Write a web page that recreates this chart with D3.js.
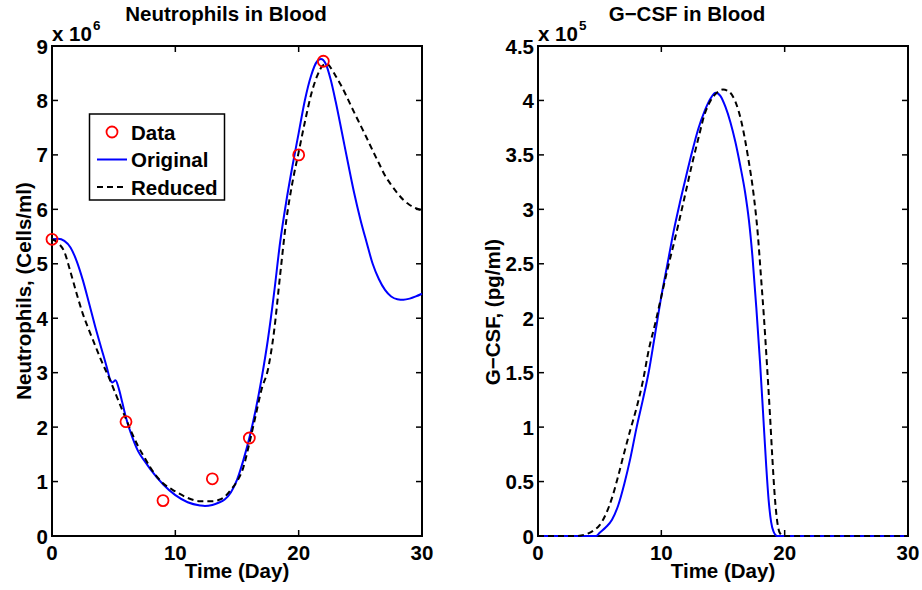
<!DOCTYPE html>
<html>
<head>
<meta charset="utf-8">
<script src="https://cdn.jsdelivr.net/npm/d3@7"></script>
<style>
  body { margin: 0; background: #fff; }
  svg text { font-family: "Liberation Sans", Arial, Helvetica, sans-serif; font-weight: bold; fill: #000; }
</style>
</head>
<body>
<div class="chart"></div>
<script>
// Neutrophils (x 10^6 cells/ml)
const dataDays = [0, 6, 9, 13, 16, 20, 22]
const dataNeut = [5.45, 2.1, 0.65, 1.05, 1.8, 7.0, 8.72]

const origNeutDays = [0, 0.5, 1, 1.5, 2, 2.5, 3, 3.5, 4, 4.5, 4.7, 4.9, 5.15, 5.4, 5.7, 6, 6.5, 7, 7.5, 8, 9, 10, 11, 12, 12.4, 13, 13.5, 14, 14.5, 15, 15.5, 16, 16.5, 17, 17.5, 18, 18.5, 19, 19.5, 20, 20.5, 21, 21.5, 21.8, 22.2, 22.6, 23, 23.5, 24, 24.5, 25, 25.5, 26, 26.5, 27, 27.5, 28, 28.5, 29, 29.5, 30]
const origNeut = [5.45, 5.46, 5.42, 5.3, 5.05, 4.7, 4.28, 3.85, 3.45, 3.05, 2.88, 2.82, 2.86, 2.72, 2.45, 2.17, 1.82, 1.55, 1.38, 1.22, 0.95, 0.75, 0.62, 0.56, 0.55, 0.57, 0.61, 0.67, 0.8, 1.03, 1.38, 1.8, 2.3, 2.9, 3.6, 4.45, 5.4, 6.15, 6.8, 7.4, 8.0, 8.45, 8.72, 8.76, 8.67, 8.38, 7.98, 7.42, 6.85, 6.3, 5.82, 5.4, 5.0, 4.72, 4.52, 4.4, 4.35, 4.34, 4.36, 4.4, 4.45]

const redNeutDays = [0, 0.5, 1, 1.5, 2, 2.5, 3, 3.5, 4, 4.5, 5, 5.5, 6, 6.5, 7, 7.5, 8, 8.5, 9, 10, 11, 12, 13, 13.5, 14, 14.5, 15, 15.5, 16, 16.5, 17, 17.5, 18, 18.5, 19, 19.5, 20, 20.5, 21, 21.5, 22, 22.3, 22.6, 23, 23.5, 24, 24.5, 25, 25.5, 26, 26.5, 27, 27.5, 28, 28.5, 29, 29.5, 30]
const redNeut = [5.45, 5.38, 5.22, 4.85, 4.45, 4.08, 3.78, 3.5, 3.22, 2.97, 2.7, 2.42, 2.15, 1.88, 1.64, 1.44, 1.25, 1.09, 0.97, 0.82, 0.7, 0.64, 0.64, 0.66, 0.72, 0.85, 1.0, 1.25, 1.7, 2.2, 2.7, 3.05, 3.75, 4.8, 5.8, 6.5, 7.05, 7.6, 8.1, 8.45, 8.65, 8.67, 8.6, 8.45, 8.25, 8.02, 7.78, 7.55, 7.32, 7.08, 6.85, 6.62, 6.45, 6.3, 6.17, 6.08, 6.02, 5.98]

// G-CSF (x 10^5 pg/ml)
const origGcsfDays = [0, 4.7, 5, 5.5, 6, 6.5, 7, 7.5, 8, 8.5, 9, 9.5, 10, 10.5, 11, 11.5, 12, 12.5, 13, 13.5, 14, 14.4, 14.8, 15.2, 15.6, 16, 16.4, 16.8, 17.1, 17.4, 17.7, 18, 18.25, 18.5, 18.7, 18.9, 19.1, 19.4, 30]
const origGcsf = [0, 0, 0.03, 0.08, 0.15, 0.28, 0.48, 0.72, 1.0, 1.25, 1.52, 1.86, 2.2, 2.5, 2.8, 3.06, 3.3, 3.53, 3.74, 3.9, 4.02, 4.07, 4.04, 3.94, 3.8, 3.62, 3.4, 3.15, 2.9, 2.55, 2.1, 1.6, 1.13, 0.65, 0.33, 0.13, 0.04, 0, 0]

const redGcsfDays = [0, 3, 3.5, 4, 4.5, 5, 5.5, 6, 6.5, 7, 7.5, 8, 8.5, 9, 9.5, 10, 10.5, 11, 11.5, 12, 12.5, 13, 13.5, 14, 14.5, 15, 15.5, 16, 16.5, 17, 17.5, 17.8, 18.1, 18.3, 18.55, 18.8, 19, 19.2, 19.4, 19.6, 19.9, 30]
const redGcsf = [0, 0, 0.005, 0.02, 0.05, 0.1, 0.2, 0.35, 0.55, 0.77, 0.98, 1.18, 1.42, 1.72, 1.95, 2.2, 2.45, 2.68, 2.92, 3.17, 3.42, 3.65, 3.87, 4.0, 4.07, 4.1, 4.08, 3.99, 3.8, 3.5, 3.12, 2.8, 2.35, 2.04, 1.6, 1.13, 0.72, 0.36, 0.13, 0.03, 0, 0]

const xTicks = [0, 10, 20, 30]
const neutTicks = [0, 1, 2, 3, 4, 5, 6, 7, 8, 9]
const gcsfTicks = [0, 0.5, 1, 1.5, 2, 2.5, 3, 3.5, 4, 4.5]

const w = 922
const h = 590
const fs = "20.5px"

const svg = d3.select(".chart")
  .append("svg")
  .attr("width", w)
  .attr("height", h)

function zip(xs, ys) {
  return xs.map((x, i) => [x, ys[i]])
}

function panel(opt) {
  const x = d3.scaleLinear().domain([0, 30]).range([opt.left, opt.right])
  const y = d3.scaleLinear().domain(opt.yDomain).range([536, 46])
  const g = svg.append("g")

  // box
  g.append("rect")
    .attr("x", opt.left).attr("y", 46)
    .attr("width", opt.right - opt.left).attr("height", 490)
    .attr("fill", "none").attr("stroke", "#000").attr("stroke-width", 2)

  // ticks on all four sides (inward)
  const tl = 6
  xTicks.forEach(t => {
    g.append("line").attr("x1", x(t)).attr("x2", x(t)).attr("y1", 536).attr("y2", 536 - tl).attr("stroke", "#000").attr("stroke-width", 1.5)
    g.append("line").attr("x1", x(t)).attr("x2", x(t)).attr("y1", 46).attr("y2", 46 + tl).attr("stroke", "#000").attr("stroke-width", 1.5)
    g.append("text").attr("x", x(t)).attr("y", 560).attr("text-anchor", "middle").style("font-size", fs).text(t)
  })
  opt.yTicks.forEach(t => {
    g.append("line").attr("x1", opt.left).attr("x2", opt.left + tl).attr("y1", y(t)).attr("y2", y(t)).attr("stroke", "#000").attr("stroke-width", 1.5)
    g.append("line").attr("x1", opt.right).attr("x2", opt.right - tl).attr("y1", y(t)).attr("y2", y(t)).attr("stroke", "#000").attr("stroke-width", 1.5)
    g.append("text").attr("x", opt.left - 4).attr("y", y(t) + 7.5).attr("text-anchor", "end").style("font-size", fs).text(t)
  })

  // exponent label
  g.append("text").attr("x", opt.left).attr("y", 41).style("font-size", fs).text("x 10")
  g.append("text").attr("x", opt.left + 41).attr("y", 30).style("font-size", "13.5px").text(opt.exp)

  // titles
  g.append("text").attr("x", opt.titleX).attr("y", 21).attr("text-anchor", "middle").style("font-size", fs).text(opt.title)
  g.append("text").attr("x", (opt.left + opt.right) / 2).attr("y", 578).attr("text-anchor", "middle").style("font-size", fs).text("Time (Day)")
  g.append("text")
    .attr("transform", `translate(${opt.yLabelX}, ${opt.yLabelY}) rotate(-90)`)
    .attr("text-anchor", "middle").style("font-size", fs).text(opt.yLabel)

  const line = d3.line().x(d => x(d[0])).y(d => y(d[1])).curve(d3.curveMonotoneX)

  g.append("path").datum(opt.orig).attr("d", line)
    .attr("fill", "none").attr("stroke", "#0000ff").attr("stroke-width", 2)
  g.append("path").datum(opt.reduced).attr("d", line)
    .attr("fill", "none").attr("stroke", "#000").attr("stroke-width", 2).attr("stroke-dasharray", "6,4")

  if (opt.points) {
    g.selectAll("circle.data").data(opt.points).enter().append("circle")
      .attr("class", "data")
      .attr("cx", d => x(d[0])).attr("cy", d => y(d[1])).attr("r", 5.5)
      .attr("fill", "none").attr("stroke", "#ff0000").attr("stroke-width", 1.8)
  }
  return g
}

const left = panel({
  left: 52, right: 422,
  yDomain: [0, 9], yTicks: neutTicks, exp: "6",
  title: "Neutrophils in Blood", titleX: 226,
  yLabel: "Neutrophils, (Cells/ml)", yLabelX: 31, yLabelY: 291,
  orig: zip(origNeutDays, origNeut),
  reduced: zip(redNeutDays, redNeut),
  points: zip(dataDays, dataNeut)
})

panel({
  left: 538, right: 908,
  yDomain: [0, 4.5], yTicks: gcsfTicks, exp: "5",
  title: "G\u2212CSF in Blood", titleX: 687,
  yLabel: "G\u2212CSF, (pg/ml)", yLabelX: 500, yLabelY: 312,
  orig: zip(origGcsfDays, origGcsf),
  reduced: zip(redGcsfDays, redGcsf)
})

// legend
const legend = left.append("g")
legend.append("rect").attr("x", 89.5).attr("y", 114).attr("width", 135).attr("height", 86)
  .attr("fill", "#fff").attr("stroke", "#000").attr("stroke-width", 1.5)
const rows = [["Data", "circle"], ["Original", "solid"], ["Reduced", "dashed"]]
rows.forEach((r, i) => {
  const cy = 132 + i * 27.5
  if (r[1] === "circle") {
    legend.append("circle").attr("cx", 112).attr("cy", cy).attr("r", 5.5)
      .attr("fill", "none").attr("stroke", "#ff0000").attr("stroke-width", 1.8)
  } else {
    legend.append("line").attr("x1", 97).attr("x2", 127).attr("y1", cy).attr("y2", cy)
      .attr("stroke", r[1] === "solid" ? "#0000ff" : "#000").attr("stroke-width", 2)
      .attr("stroke-dasharray", r[1] === "dashed" ? "6,4" : null)
  }
  legend.append("text").attr("x", 131).attr("y", cy + 7.5).style("font-size", fs).text(r[0])
})
</script>
</body>
</html>
